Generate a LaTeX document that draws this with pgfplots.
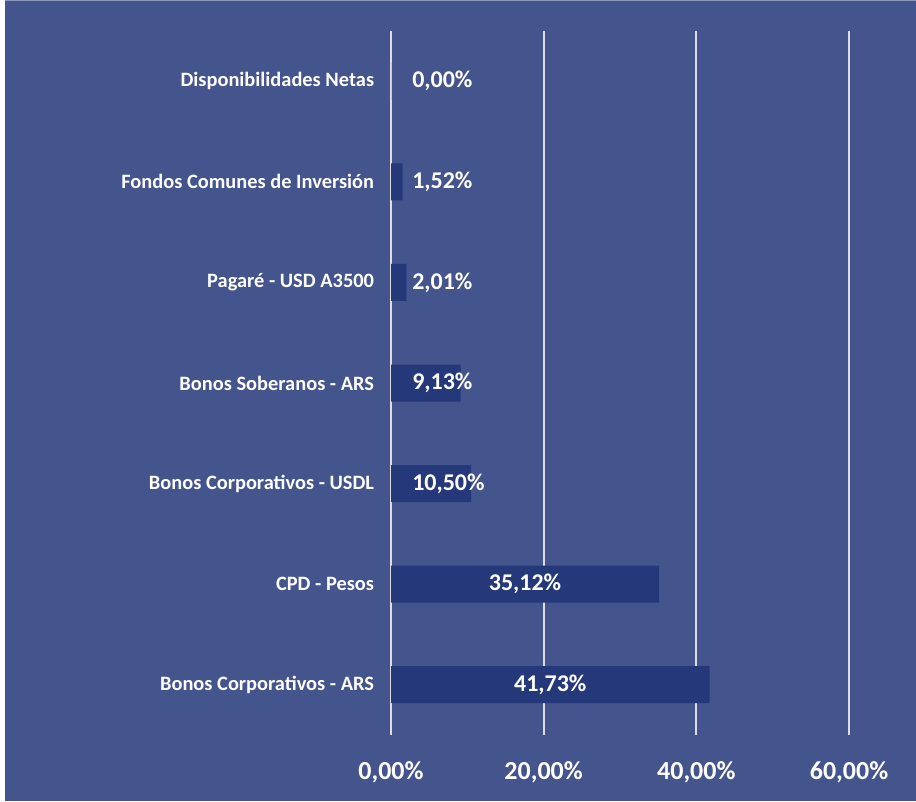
\documentclass[border=0pt]{standalone}
\usepackage{pgfplots}
\pgfplotsset{compat=1.18}
\usepackage{fontspec}
\setmainfont{Carlito}
\definecolor{bgblue}{RGB}{68,84,140}
\definecolor{barblue}{RGB}{37,57,122}
\definecolor{gridgray}{RGB}{222,222,226}
\definecolor{topline}{RGB}{140,150,190}
\begin{document}
\begin{tikzpicture}[x=0.75pt,y=0.75pt]
\useasboundingbox (0,0) rectangle (916,801);
\fill[white] (0,0) rectangle (916,801);
\fill[bgblue] (5,0) rectangle (916,801);
\fill[topline] (5,799.5) rectangle (916,801);
\begin{axis}[
  at={(293.25pt,49.5pt)}, anchor=south west,
  scale only axis, width=343.5pt, height=528pt,
  xmin=0, xmax=60, ymin=-0.5, ymax=6.5,
  xtick={0,20,40,60},
  xticklabels={{0,00\%},{20,00\%},{40,00\%},{60,00\%}},
  ytick={0,1,2,3,4,5,6},
  yticklabels={{Bonos Corporativos - ARS},{CPD - Pesos},{Bonos Corporativos - USDL},{Bonos Soberanos - ARS},{Pagaré - USD A3500},{Fondos Comunes de Inversión},{Disponibilidades Netas}},
  axis line style={draw=none},
  major tick length=0pt,
  xmajorgrids, grid style={color=gridgray, line width=1.5pt},
  xticklabel style={anchor=base, yshift=-33pt, font=\bfseries\fontsize{19.5pt}{22pt}\selectfont, text=white},
  yticklabel style={anchor=east, inner sep=0pt, xshift=-12.5pt, font=\bfseries\fontsize{15.3pt}{18pt}\selectfont, text=white},
  clip=false,
]
\addplot[xbar, bar width=27.75pt, fill=barblue, draw=none] coordinates {(41.73,0) (35.12,1) (10.50,2) (9.13,3) (2.01,4) (1.52,5) (0.00,6)};
\addplot[draw=none, mark=none, nodes near coords, point meta=explicit symbolic,
  nodes near coords style={anchor=west, inner sep=0pt, text=white, font=\bfseries\fontsize{18pt}{21pt}\selectfont}]
  table[meta=label] {
x y label
2.75 2 10,50\%
2.75 3 9,13\%
2.75 4 2,01\%
2.75 5 1,52\%
2.75 6 0,00\%
};
\addplot[draw=none, mark=none, nodes near coords, point meta=explicit symbolic,
  nodes near coords style={anchor=center, inner sep=0pt, text=white, font=\bfseries\fontsize{18pt}{21pt}\selectfont}]
  table[meta=label] {
x y label
20.865 0 41,73\%
17.56 1 35,12\%
};
\end{axis}
\end{tikzpicture}
\end{document}
